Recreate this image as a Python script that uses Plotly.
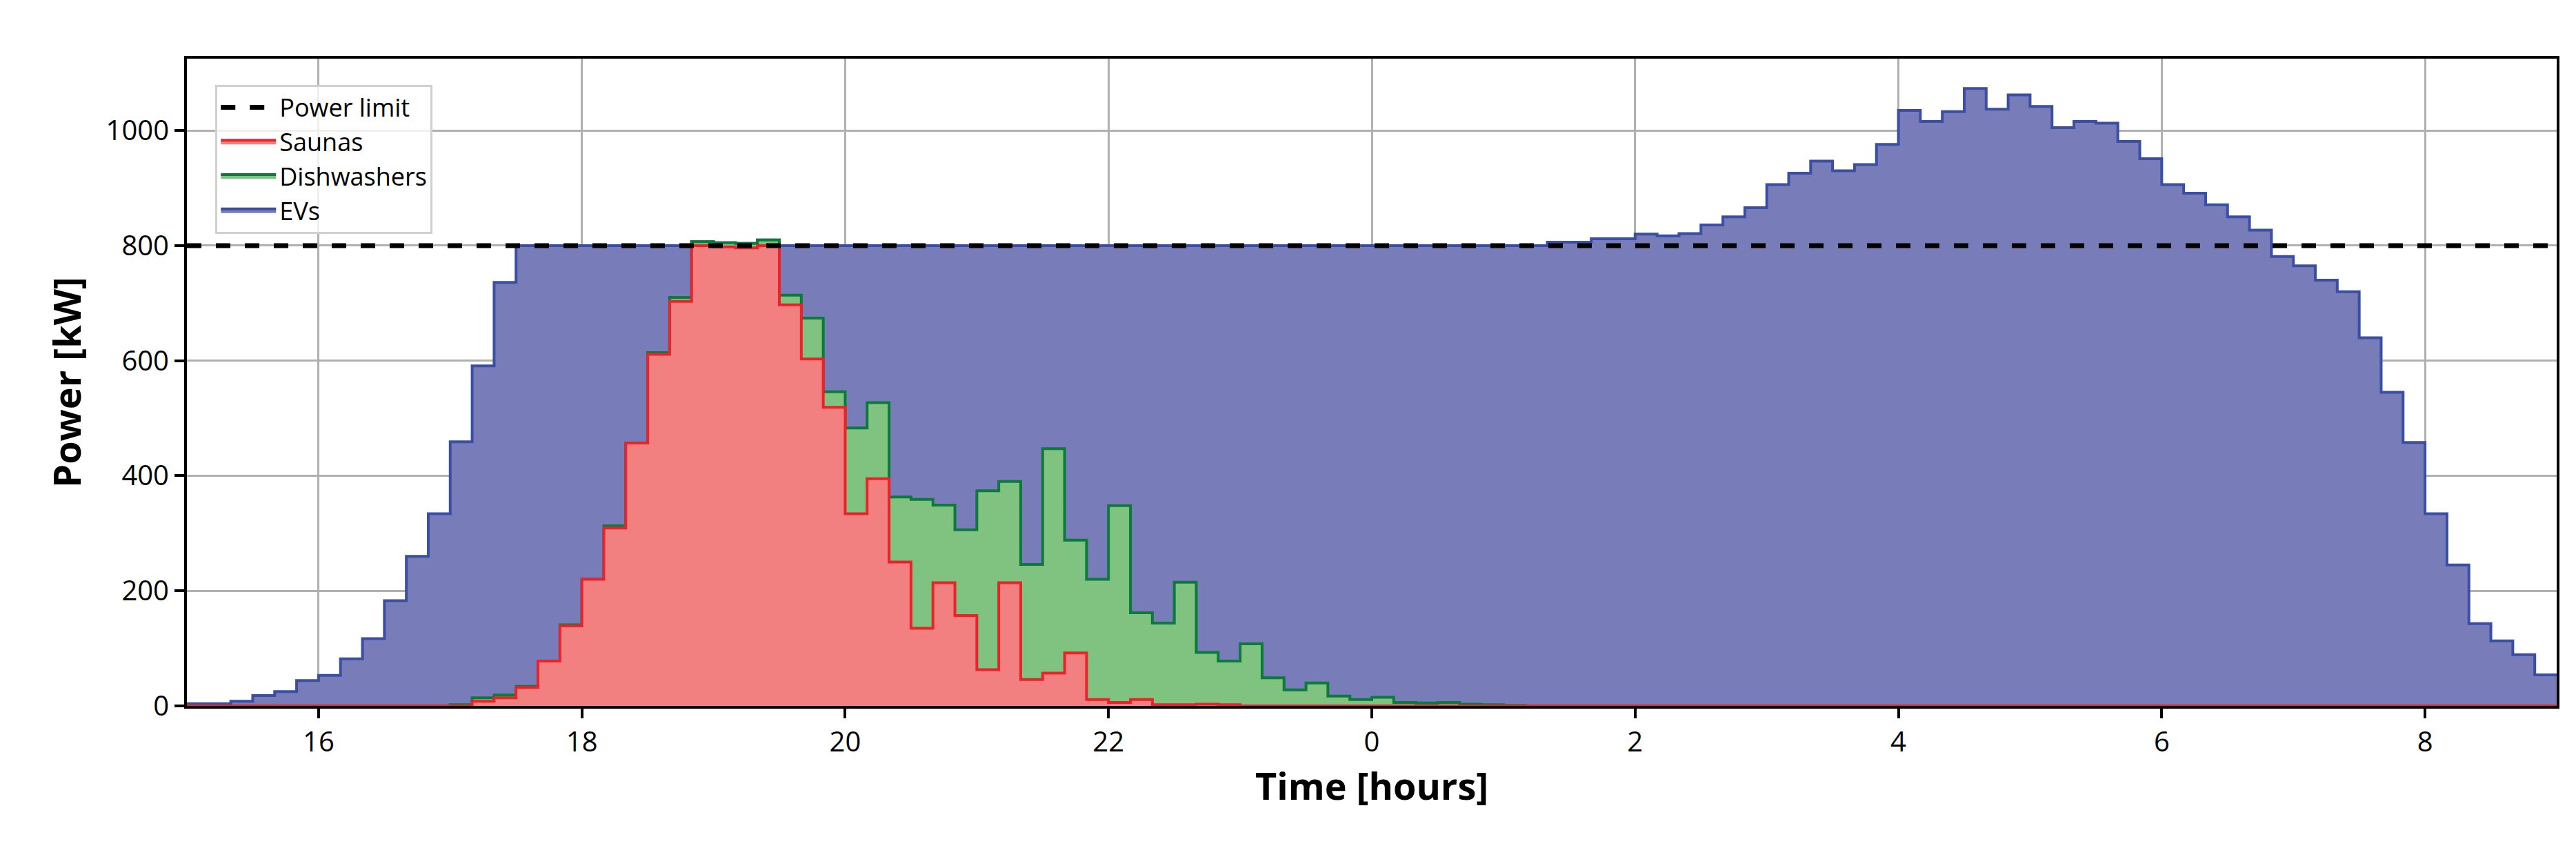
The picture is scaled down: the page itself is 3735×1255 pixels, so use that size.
import numpy as np
import plotly.graph_objects as go

# 10-minute bins from 15:00 to 09:00 next day (108 bins)
bin_hours = [15 + i / 6 for i in range(109)]
tick_vals = [16, 18, 20, 22, 24, 26, 28, 30, 32]
tick_text = ["16", "18", "20", "22", "0", "2", "4", "6", "8"]
power_limit = 800

# Stacked tops (kW)
saunas_kw = [0]*13 + [8, 14, 32, 78, 139, 220, 309, 457, 611, 703, 800, 798, 796, 800, 697, 603, 519,
                      334, 395, 250, 135, 214, 157, 63, 214, 46, 57, 92, 11, 6, 11, 2, 2, 3, 2] + [0]*60
saunas_dish_kw = [0]*12 + [2, 14, 19, 34, 78, 141, 220, 313, 457, 614, 710, 807, 805, 804, 810, 714, 674,
                           546, 483, 527, 363, 359, 349, 306, 374, 390, 246, 447, 288, 220, 348, 162, 144,
                           215, 93, 78, 108, 49, 28, 40, 17, 11, 15, 6, 5, 6, 3, 2, 1] + [0]*47
total_kw = [4, 4, 8, 18, 25, 44, 53, 82, 117, 183, 260, 334, 459, 591, 736] + [800]*8 + \
           [807, 805, 804, 810] + [800]*35 + [806, 806, 812, 812, 820, 817] + \
           [821, 836, 850, 866, 906, 926, 947, 930, 941, 976, 1035, 1016, 1033, 1073, 1037, 1062,
            1042, 1005, 1016, 1013, 981, 951, 906, 891, 871, 850, 827, 781, 765, 740, 720, 640,
            545, 458, 334, 245, 143, 113, 89, 54]

def step(vals):
    return list(vals) + [vals[-1]]

fig = go.Figure()
fig.add_trace(go.Scatter(x=bin_hours, y=step(total_kw), mode="lines", line=dict(shape="hv", color="#3a4fa3", width=4),
                         fill="tozeroy", fillcolor="rgb(120,124,184)", name="EVs", legendrank=4))
fig.add_trace(go.Scatter(x=bin_hours, y=step(saunas_dish_kw), mode="lines", line=dict(shape="hv", color="#0b7a3b", width=4),
                         fill="tozeroy", fillcolor="rgb(128,194,128)", name="Dishwashers", legendrank=3))
fig.add_trace(go.Scatter(x=bin_hours, y=step(saunas_kw), mode="lines", line=dict(shape="hv", color="#e8232a", width=4),
                         fill="tozeroy", fillcolor="rgb(243,128,128)", name="Saunas", legendrank=2))
fig.add_trace(go.Scatter(x=[15, 33], y=[power_limit, power_limit], mode="lines",
                         line=dict(color="black", width=7, dash="dash"), name="Power limit", legendrank=1))

axis_common = dict(showgrid=True, gridcolor="#b0b0b0", gridwidth=3, showline=True, linecolor="black",
                   linewidth=4, mirror=True, ticks="outside", ticklen=14, tickwidth=4, tickcolor="black",
                   tickfont=dict(size=40, color="black"), zeroline=False)
fig.update_xaxes(range=[15, 33], tickvals=tick_vals, ticktext=tick_text,
                 title=dict(text="<b>Time [hours]</b>", font=dict(size=54, color="black"), standoff=20), **axis_common)
fig.update_yaxes(range=[0, 1125], tickvals=[0, 200, 400, 600, 800, 1000],
                 title=dict(text="<b>Power [kW]</b>", font=dict(size=54, color="black"), standoff=20), **axis_common)
fig.update_layout(width=3735, height=1255, margin=dict(l=263, r=36, t=77, b=240),
                  plot_bgcolor="white", paper_bgcolor="white",
                  font=dict(family="Open Sans, Lato, sans-serif"),
                  legend=dict(x=0.012, y=0.96, xanchor="left", yanchor="top", bgcolor="rgba(255,255,255,0.8)",
                              bordercolor="#d0d0d0", borderwidth=3, font=dict(size=36, color="black"),
                              traceorder="normal", itemwidth=80))
fig.write_html("out.html")
